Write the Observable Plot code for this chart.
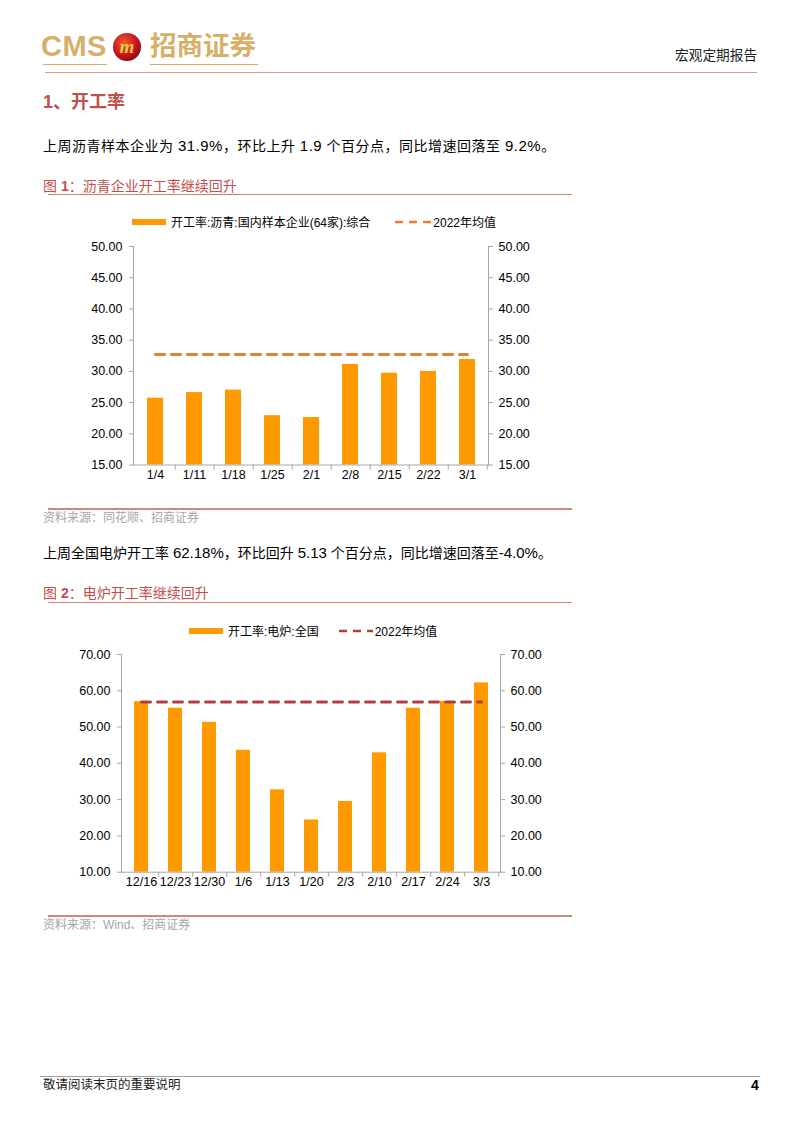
<!DOCTYPE html>
<html><head><meta charset="utf-8">
<script src="https://cdn.jsdelivr.net/npm/d3@7"></script>
<script src="https://cdn.jsdelivr.net/npm/@observablehq/plot@0.6"></script>
<style>
body{margin:0;background:#fff;}
#page{position:relative;width:802px;height:1133px;overflow:hidden;font-family:"Liberation Sans","Noto Sans CJK SC",sans-serif;color:#000;}
.abs{position:absolute;white-space:nowrap;line-height:1;}
.hline{position:absolute;height:0;}
.para{font-size:14px;}
.para .n{font-size:15px;}
.figt{font-size:14px;color:#C0504D;}
.src{font-size:12px;color:#A6A6A6;}
.leg{position:absolute;display:flex;align-items:center;font-size:12px;white-space:nowrap;}
.sw{display:inline-block;width:34px;height:6px;background:#FF9900;margin-right:5px;}
.chart{position:absolute;}
</style></head><body><div id="page">

<!-- header -->
<div class="abs" style="left:41px;top:32px;font-size:29px;font-weight:bold;color:#D6B06A;letter-spacing:0.5px;">CMS</div>
<div class="hline" style="left:43px;top:64px;width:64px;border-top:1.5px solid #D6B06A;"></div>
<svg class="abs" style="left:112px;top:32px;" width="30" height="30">
  <defs><radialGradient id="lg" cx="40%" cy="35%" r="65%"><stop offset="0" stop-color="#F05A2A"/><stop offset="0.7" stop-color="#C8141E"/><stop offset="1" stop-color="#8E0A12"/></radialGradient></defs>
  <circle cx="15" cy="15" r="14" fill="url(#lg)"/>
  <text x="15" y="21" text-anchor="middle" font-family="Liberation Serif" font-weight="bold" font-style="italic" font-size="19" fill="#F3C64A">m</text>
</svg>
<div class="abs" style="left:150px;top:33px;font-size:26.5px;font-weight:bold;color:#D6B06A;">招商证券</div>
<div class="hline" style="left:150px;top:64px;width:108px;border-top:1.5px solid #D6B06A;"></div>
<div class="abs" style="left:675px;top:49px;font-size:13.7px;color:#222;">宏观定期报告</div>
<div class="hline" style="left:45px;top:72px;width:712px;border-top:1.5px solid #E0958A;"></div>

<!-- section -->
<div class="abs" style="left:43px;top:93px;font-size:18px;font-weight:bold;color:#C0504D;">1、开工率</div>
<div class="abs para" style="left:43px;top:138px;letter-spacing:0.5px;">上周沥青样本企业为 <span class="n">31.9%</span>，环比上升 <span class="n">1.9</span> 个百分点，同比增速回落至 <span class="n">9.2%</span>。</div>

<div class="abs figt" style="left:43px;top:179px;">图 <b>1</b>：沥青企业开工率继续回升</div>
<div class="hline" style="left:48px;top:194px;width:524px;border-top:1.5px solid #D9826B;"></div>

<div class="leg" style="left:132px;top:213px;"><span class="sw"></span>开工率:沥青:国内样本企业(64家):综合
  <svg width="36" height="6" style="margin-left:25px;margin-right:2px;"><line x1="0" y1="3" x2="36" y2="3" stroke="#ED7D31" stroke-width="2.6" stroke-dasharray="8,6"/></svg>2022年均值</div>
<div id="c1" class="chart" style="left:80px;top:236px;"></div>

<div class="hline" style="left:48px;top:508px;width:524px;border-top:2px solid #CC8A78;"></div>
<div class="abs src" style="left:43px;top:512px;">资料来源：同花顺、招商证券</div>

<div class="abs para" style="left:43px;top:545px;">上周全国电炉开工率 <span class="n">62.18%</span>，环比回升 <span class="n">5.13</span> 个百分点，同比增速回落至<span class="n">-4.0%</span>。</div>

<div class="abs figt" style="left:43px;top:586px;">图 <b>2</b>：电炉开工率继续回升</div>
<div class="hline" style="left:48px;top:602px;width:524px;border-top:1.5px solid #D9826B;"></div>

<div class="leg" style="left:189px;top:622px;"><span class="sw"></span>开工率:电炉:全国
  <svg width="34" height="6" style="margin-left:20px;margin-right:2px;"><line x1="0" y1="3" x2="34" y2="3" stroke="#B0403C" stroke-width="2.6" stroke-dasharray="8,6"/></svg>2022年均值</div>
<div id="c2" class="chart" style="left:60px;top:643px;"></div>

<div class="hline" style="left:48px;top:915px;width:524px;border-top:2px solid #CC8A78;"></div>
<div class="abs src" style="left:43px;top:919px;">资料来源：Wind、招商证券</div>

<!-- footer -->
<div class="hline" style="left:40px;top:1076px;width:720px;border-top:1px solid #A0A0A0;"></div>
<div class="abs" style="left:43px;top:1079px;font-size:12.5px;color:#222;">敬请阅读末页的重要说明</div>
<div class="abs" style="left:751px;top:1078px;font-size:14px;font-weight:bold;">4</div>

</div>
<script>
// Figure 1: asphalt plant operating rate (%)
const asphaltDates = ["1/4","1/11","1/18","1/25","2/1","2/8","2/15","2/22","3/1"];
const asphaltRate = [25.7, 26.6, 27.0, 22.9, 22.6, 31.1, 29.7, 30.0, 31.9];
const asphaltMean2022 = 32.7;
const asphaltTicks = [15, 20, 25, 30, 35, 40, 45, 50];

// Figure 2: electric arc furnace operating rate (%)
const eafDates = ["12/16","12/23","12/30","1/6","1/13","1/20","2/3","2/10","2/17","2/24","3/3"];
const eafRate = [57.0, 55.2, 51.3, 43.6, 32.7, 24.4, 29.5, 42.9, 55.2, 57.05, 62.18];
const eafMean2022 = 56.9;
const eafTicks = [10, 20, 30, 40, 50, 60, 70];

function barChart({dates, values, mean, ticks, width, height, ml, mr, mt, mb, lineColor}) {
  const lo = ticks[0], hi = ticks[ticks.length - 1];
  const data = dates.map((d, i) => ({date: d, value: values[i], mean}));
  const step = (width - ml - mr) / dates.length;
  const axisGrey = "#A6A6A6";
  return Plot.plot({
    width, height, marginLeft: ml, marginRight: mr, marginTop: mt, marginBottom: mb,
    style: {fontFamily: "'Liberation Sans','Noto Sans CJK SC',sans-serif", fontSize: "12.5px", color: "#000", background: "transparent", overflow: "visible"},
    x: {domain: dates, paddingInner: 0.6, paddingOuter: 0.3, label: null, axis: null},
    y: {domain: [lo, hi], label: null, axis: null},
    marks: [
      Plot.barY(data, {x: "date", y1: () => lo, y2: "value", fill: "#FF9900"}),
      Plot.lineY(data, {x: "date", y: "mean", stroke: lineColor, strokeWidth: 3, strokeDasharray: "9,7"}),
      Plot.frame({anchor: "left", stroke: axisGrey}),
      Plot.frame({anchor: "right", stroke: axisGrey}),
      Plot.frame({anchor: "bottom", stroke: axisGrey}),
      Plot.axisY(ticks, {anchor: "left", tickSize: 4, tickPadding: 7, tickFormat: d => d.toFixed(2), stroke: axisGrey, label: null}),
      Plot.axisY(ticks, {anchor: "right", tickSize: 4, tickPadding: 6, tickFormat: d => d.toFixed(2), stroke: axisGrey, label: null}),
      Plot.axisX({anchor: "bottom", tickSize: 0, tickPadding: 5, label: null}),
      Plot.axisX({anchor: "bottom", tickSize: 5, dx: step / 2, tickFormat: () => "", stroke: axisGrey, label: null})
    ]
  });
}

document.getElementById("c1").append(barChart({
  dates: asphaltDates, values: asphaltRate, mean: asphaltMean2022, ticks: asphaltTicks,
  width: 480, height: 250, ml: 53, mr: 72, mt: 10, mb: 21.5, lineColor: "#ED7D31"
}));
document.getElementById("c2").append(barChart({
  dates: eafDates, values: eafRate, mean: eafMean2022, ticks: eafTicks,
  width: 500, height: 250, ml: 61, mr: 60, mt: 11, mb: 21.3, lineColor: "#B0403C"
}));
</script>
</body></html>
